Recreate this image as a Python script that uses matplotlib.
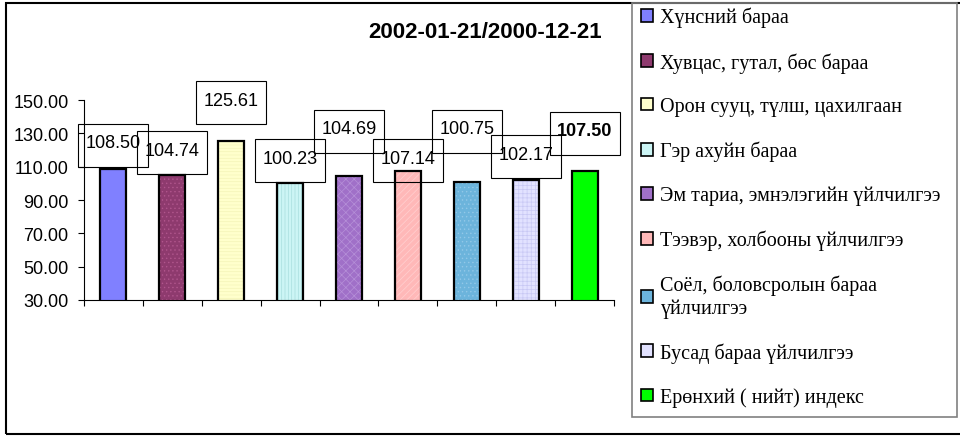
import numpy as np
import matplotlib
matplotlib.use("Agg")
import matplotlib.pyplot as plt
from matplotlib.patches import Patch, Rectangle
from matplotlib.transforms import ScaledTranslation
from matplotlib.ticker import FormatStrFormatter

categories = [
    "Хүнсний бараа",
    "Хувцас, гутал, бөс бараа",
    "Орон сууц, түлш, цахилгаан",
    "Гэр ахуйн бараа",
    "Эм тариа, эмнэлэгийн үйлчилгээ",
    "Тээвэр, холбооны үйлчилгээ",
    "Соёл, боловсролын бараа\nүйлчилгээ",
    "Бусад бараа үйлчилгээ",
    "Ерөнхий ( нийт) индекс",
]
values = [108.50, 104.74, 125.61, 100.23, 104.69, 107.14, 100.75, 102.17, 107.50]
title = "2002-01-21/2000-12-21"

# where Excel left the data labels (box centres, in data units)
label_y = [123.0, 118.8, 148.8, 114.0, 131.4, 114.0, 131.4, 116.4, 130.2]

fills = ["#8080ff", "#8e3a6e", "#ffffcc", "#ccf5f5", "#a070c8",
         "#ffb8b8", "#6cb4dc", "#e2e2ff", "#00ff00"]
hatch_colors = ["#8080ff", "#b0558c", "#f4f4b8", "#a8dede", "#b690d8",
                "#ffd0d0", "#92c8e8", "#c8c8f4", "#00ff00"]
hatches = [None, "....", "-----", "|||||", "xxxx", "/////", "....", "++++", None]

plt.rcParams['font.family'] = ['Liberation Sans', 'DejaVu Sans']
plt.rcParams['hatch.linewidth'] = 0.5


def main():
    fig = plt.figure(figsize=(9.6, 4.39), dpi=100)
    W, H = 960, 439

    # outer chart border
    fig.patches.append(Rectangle((6 / W, 1 - 435 / H), 1.2, (435 - 4) / H,
                                 transform=fig.transFigure, fill=False,
                                 edgecolor="black", linewidth=1.5))

    ax = fig.add_axes([84 / W, 1 - 301 / H, (614 - 84) / W, 200 / H])
    x = np.arange(len(values))
    width = 0.44

    for i in range(len(values)):
        ax.bar(x[i], values[i], width, color=fills[i], hatch=hatches[i],
               edgecolor=hatch_colors[i], linewidth=0)
    ax.bar(x, values, width, fill=False, edgecolor="black", linewidth=1.6)

    ax.set_xlim(-0.5, len(values) - 0.5)
    ax.set_ylim(30, 150)
    ax.set_yticks(np.arange(30, 151, 20))
    ax.yaxis.set_major_formatter(FormatStrFormatter('%.2f'))
    ax.set_xticks(np.arange(-0.5, len(values), 1))
    ax.set_xticklabels([])
    ax.tick_params(axis='y', labelsize=13, length=4, width=0.8, pad=7)
    ax.tick_params(axis='x', length=4, width=0.8)
    for side in ("top", "right"):
        ax.spines[side].set_visible(False)
    for side in ("left", "bottom"):
        ax.spines[side].set_linewidth(0.8)

    # data labels in boxes
    for i, v in enumerate(values):
        trans = fig.dpi_scale_trans + ScaledTranslation(x[i], label_y[i], ax.transData)
        ax.add_patch(Rectangle((-0.35, -0.215), 0.70, 0.43, transform=trans,
                               fill=False, edgecolor="black", linewidth=0.8,
                               clip_on=False))
        ax.text(0, 0.02, "%.2f" % v, transform=trans, ha="center", va="center",
                fontsize=13, fontweight="bold" if i == len(values) - 1 else "normal",
                clip_on=False)

    fig.text(485 / W, 1 - 32 / H, title, ha="center", va="center",
             fontsize=16, fontweight="bold")

    # legend frame and entries
    fig.patches.append(Rectangle((632 / W, 1 - 418 / H), (957 - 632) / W, (418 - 4) / H,
                                 transform=fig.transFigure, fill=False,
                                 edgecolor="#808080", linewidth=1.2))
    handles = [Patch(facecolor=f, edgecolor="black", linewidth=1.2) for f in fills]
    fig.legend(handles, categories, loc="upper left",
               bbox_to_anchor=(641 / W, 1 - 8 / H), frameon=False,
               prop={'family': 'Liberation Serif', 'size': 14.5},
               handlelength=0.6, handleheight=0.6, handletextpad=0.35,
               labelspacing=1.22, borderpad=0, borderaxespad=0)

    fig.savefig("out.png", dpi=100)


if __name__ == '__main__':
    main()
